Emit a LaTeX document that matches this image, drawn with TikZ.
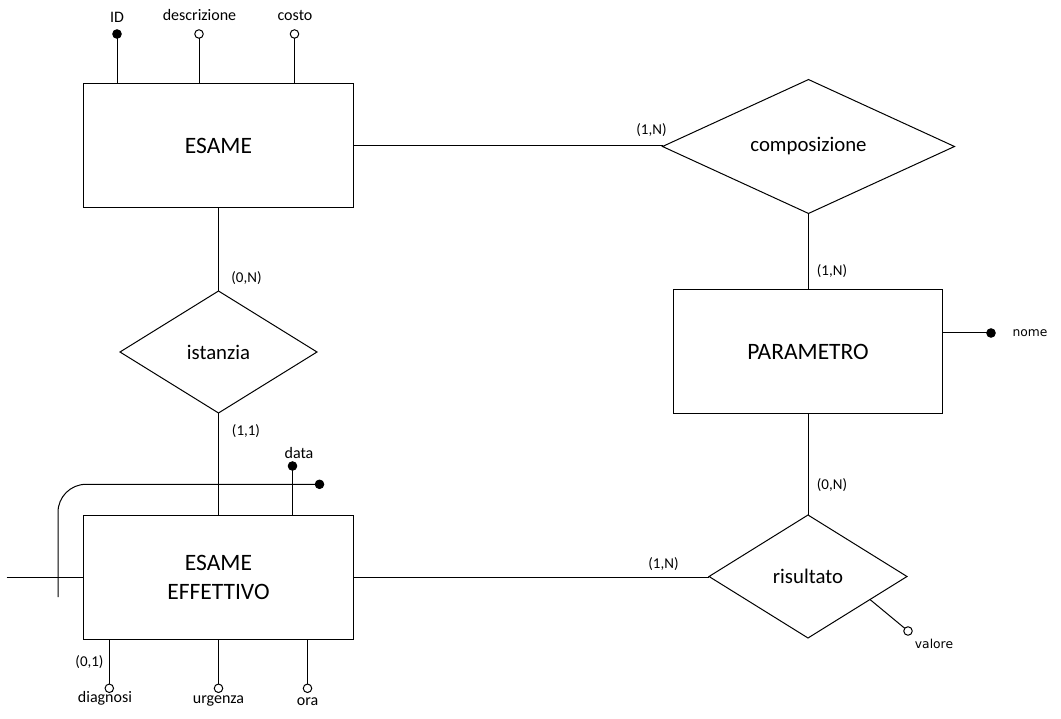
\documentclass[tikz,border=0pt]{standalone}
\usepackage{fontspec}
\setmainfont{Carlito}
\newfontfamily\smallsans{DejaVu Sans}
\usetikzlibrary{shapes.geometric,calc}
\begin{document}
\begin{tikzpicture}[x=1pt,y=-1pt,line width=1pt,
  entity/.style={draw, rectangle, minimum width=269.5pt, minimum height=124pt, inner sep=0pt, outer sep=0pt, font=\fontsize{23.5}{29}\selectfont, align=center},
  relation/.style={draw, diamond, inner sep=0pt, outer sep=0pt, font=\fontsize{20.8}{25}\selectfont},
  card/.style={font=\fontsize{15}{17}\selectfont, inner sep=0pt},
  alabel/.style={font=\fontsize{16}{18}\selectfont, inner sep=0pt},
  slabel/.style={font=\smallsans\fontsize{12.3}{14}\selectfont, inner sep=0pt},
  keyattr/.style={circle, draw, fill=black, minimum size=8.5pt, inner sep=0pt, outer sep=0pt},
  plainattr/.style={circle, draw, fill=white, minimum size=8.5pt, inner sep=0pt, outer sep=0pt}]
\path[fill=white] (0,0) rectangle (1061,719);
\useasboundingbox (0,0) rectangle (1061,719);

% entities
\node[entity] (esame) at (218.5,146) {ESAME};
\node[entity] (param) at (808,352) {PARAMETRO};
\node[entity] (effettivo) at (218.5,577) {ESAME\\EFFETTIVO};

% relations
\node[relation, minimum width=292pt, minimum height=122pt] (compos) at (808.5,146.5) {composizione};
\node[relation, minimum width=197pt, minimum height=122pt] (istanzia) at (218.5,352) {istanzia};
\node[relation, minimum width=198pt, minimum height=123pt] (risultato) at (808,576.5) {risultato};

% connectors
\draw (esame.east) -- (esame.east -| compos.west);
\draw (compos.south) -- (compos.south |- param.north);
\draw (param.south) -- (risultato.north);
\draw (esame.south) -- (istanzia.north);
\draw (istanzia.south) -- (effettivo.north);
\draw (effettivo.east) -- (effettivo.east -| risultato.west);

% cardinalities
\node[card] (c1) at (651.5,130) {(1,N)};
\node[card] (c2) at (832,271) {(1,N)};
\node[card] (c3) at (832,485) {(0,N)};
\node[card] (c4) at (663.5,564) {(1,N)};
\node[card] (c5) at (246.5,278) {(0,N)};
\node[card] (c6) at (246,431) {(1,1)};
\node[card] (c7) at (89.5,662) {(0,1)};

% ESAME attributes
\node[keyattr] (idc) at (117,34) {};
\node[plainattr] (descc) at (199,34) {};
\node[plainattr] (costoc) at (294.5,34) {};
\draw (idc) -- (idc |- esame.north);
\draw (descc) -- (descc |- esame.north);
\draw (costoc) -- (costoc |- esame.north);
\node[alabel] (idl) at (117,17) {ID};
\node[alabel] (descl) at (199.5,15) {descrizione};
\node[alabel] (costol) at (295,16) {costo};

% PARAMETRO attribute
\node[keyattr] (nomec) at (991,333) {};
\draw (nomec) -- (nomec -| param.east);
\node[slabel] (nomel) at (1030,333) {nome};

% risultato attribute
\node[plainattr] (valc) at (908,631) {};
\coordinate (valfoot) at ($(risultato.east)!0.374!(risultato.south)$);
\draw (valfoot) -- (valc);
\node[slabel] (vall) at (934,644) {valore};

% ESAME EFFETTIVO attributes
\node[keyattr] (datac) at (292.5,466) {};
\draw (datac) -- (datac |- effettivo.north);
\node[alabel] (datal) at (299,453) {data};

\node[keyattr] (cidc) at (319.5,484.3) {};
\coordinate (cidcorner) at (58,484.3);
\coordinate (cidend) at (58,597);
\draw[rounded corners=28pt] (cidc) -- (cidcorner) -- (cidend);

\coordinate (extl) at (6.5,577);
\draw (extl) -- (effettivo.west);

\node[plainattr] (diagc) at (109.3,688.3) {};
\node[plainattr] (urgc) at (218.5,688.3) {};
\node[plainattr] (orac) at (307.5,688.3) {};
\draw (diagc) -- (diagc |- effettivo.south);
\draw (urgc) -- (urgc |- effettivo.south);
\draw (orac) -- (orac |- effettivo.south);
\node[alabel] (diagl) at (105,698) {diagnosi};
\node[alabel] (urgl) at (218.5,701) {urgenza};
\node[alabel] (oral) at (307.5,702) {ora};
\end{tikzpicture}
\end{document}
